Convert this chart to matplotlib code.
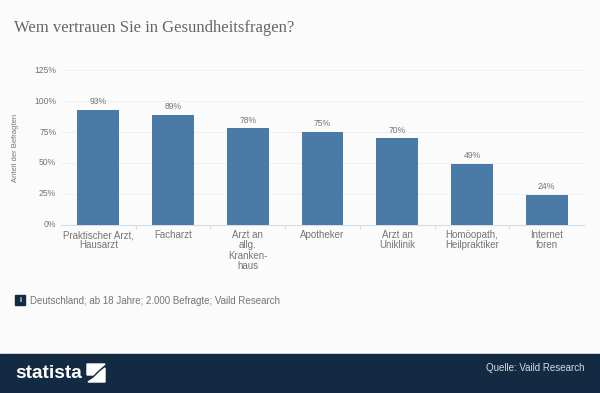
#!/usr/bin/env python3

import matplotlib
matplotlib.use("Agg")
import matplotlib.pyplot as plt
from matplotlib.patches import Polygon, Rectangle

categories = ["Praktischer Arzt,\nHausarzt", "Facharzt", "Arzt an\nallg.\nKranken-\nhaus", "Apotheker",
              "Arzt an\nUniklinik", "Homöopath,\nHeilpraktiker", "Internet\nforen"]
values = [93, 89, 78, 75, 70, 49, 24]
yticks = [0, 25, 50, 75, 100, 125]

W, H = 600, 393
GREY = "#757575"
BLUE = "#4a7aa6"
NAVY = "#122a42"


def px(x, y):
    return x / W, 1 - y / H


plt.rcParams["font.family"] = ["Liberation Sans", "DejaVu Sans"]
fig = plt.figure(figsize=(W / 100, H / 100), dpi=100, facecolor="#fbfbfb")

ax = fig.add_axes([61 / W, 1 - 224.5 / H, 523 / W, 154 / H])
ax.set_facecolor("none")
ax.bar(range(len(values)), values, width=0.56, color=BLUE, zorder=3)
for i, v in enumerate(values):
    ax.text(i, v + 3, "%d%%" % v, ha="center", va="bottom", fontsize=6.2, color=GREY)
ax.set_xlim(-0.5, len(values) - 0.5)
ax.set_ylim(0, 125)
ax.set_yticks(yticks)
ax.set_yticklabels(["%d%%" % t for t in yticks], fontsize=6.2, color=GREY, va="center")
ax.set_xticks([i + 0.5 for i in range(len(values) - 1)])
ax.set_xticklabels([])
ax.set_xticks(range(len(values)), minor=True)
ax.set_xticklabels(categories, minor=True, fontsize=7, color=GREY, linespacing=1.03)
ax.tick_params(axis="x", which="major", length=3, color="#d5dee6", width=0.8)
ax.tick_params(axis="x", which="minor", length=0, pad=4)
ax.tick_params(axis="y", length=0, pad=3.5)
ax.grid(axis="y", color="#f0f0f0", linewidth=0.7, zorder=0)
for s in ["top", "right", "left"]:
    ax.spines[s].set_visible(False)
ax.spines["bottom"].set_color("#d5dee6")
ax.set_ylabel("Anteil der Befragten", fontsize=5.5, color=GREY)
ax.yaxis.set_label_coords((19 - 61) / 523, 0.5)

x, y = px(14, 28)
fig.text(x, y, "Wem vertrauen Sie in Gesundheitsfragen?", fontsize=12.0, color="#666666",
         family="Liberation Serif", va="center")

# info box
fig.add_artist(Rectangle(px(15, 305), 10 / W, 10 / H, transform=fig.transFigure, color=NAVY))
x, y = px(20, 300)
fig.text(x, y, "i", fontsize=5, color="white", weight="bold", ha="center", va="center")
x, y = px(30, 301)
fig.text(x, y, "Deutschland; ab 18 Jahre; 2.000 Befragte; Vaild Research", fontsize=7, color=GREY, va="center")

# footer
fig.add_artist(Rectangle((0, 0), 1, 1 - 354 / H, transform=fig.transFigure, color=NAVY))
x, y = px(15, 373)
fig.text(x, y, "statista", fontsize=13.8, color="white", weight="bold", va="center")
# logo mark, two white halves with a dark s-shaped gap
fig.add_artist(Polygon([px(87, 364), px(105, 364), px(98, 370), px(93, 375), px(87, 375)],
                       transform=fig.transFigure, color="white"))
fig.add_artist(Polygon([px(105, 368), px(105, 382), px(88, 382), px(94, 378), px(100, 372)],
                       transform=fig.transFigure, color="white"))
x, y = px(584, 368)
fig.text(x, y, "Quelle: Vaild Research", fontsize=7, color="#d5dce3", ha="right", va="center")

fig.savefig("out.png", dpi=100, facecolor=fig.get_facecolor())
